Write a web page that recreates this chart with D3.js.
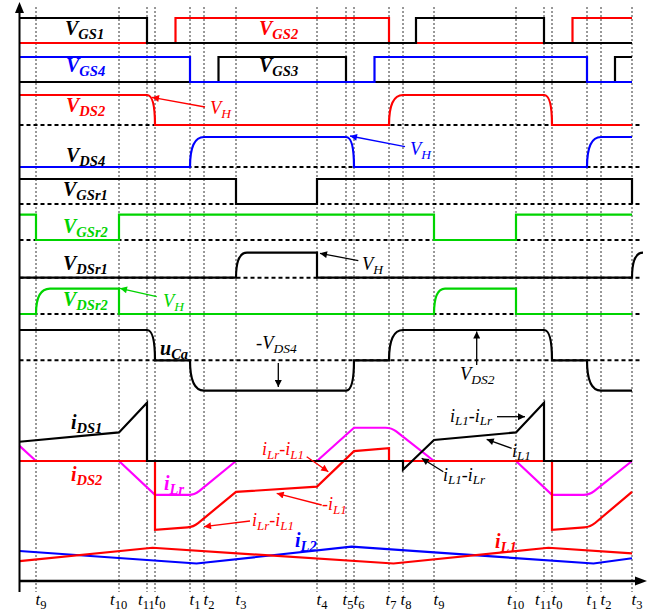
<!DOCTYPE html>
<html><head><meta charset="utf-8">
<script src="https://cdn.jsdelivr.net/npm/d3@7"></script>
<style>body{margin:0;background:#fff}svg{display:block}</style>
</head><body>
<svg id="c" width="664" height="615"></svg>
<script>
// ---------------- data ----------------
const tickNames = ["9","10","11","0","1","2","3","4","5","6","7","8","9","10","11","0","1","2","3"];
const tickTimes = [16.5,99.5,127.5,135.5,170.5,184.5,216.5,297.5,326.5,334.5,369.5,383.5,414.5,496.5,524.5,532.5,567.5,581.5,612.5];

// gate / drain waveforms: [time, level, edgeShape]
const vgs1 = [[0,1],[127.5,1],[127.5,0],[396.5,0],[396.5,1],[524.5,1],[524.5,0],[612.5,0]];
const vgs2 = [[0,0],[156,0],[156,1],[369.5,1],[369.5,0],[553,0],[553,1],[612.5,1]];
const vgs4 = [[0,1],[170.5,1],[170.5,0],[355,0],[355,1],[567.5,1],[567.5,0],[612.5,0]];
const vgs3 = [[0,0],[199,0],[199,1],[326.5,1],[326.5,0],[595.5,0],[595.5,1],[612.5,1]];
const vds2 = [[0,1],[127.5,1],[135.5,0,"u"],[369.5,0],[383.5,1,"u"],[524.5,1],[532.5,0,"u"],[612.5,0]];
const vds4 = [[0,0],[170.5,0],[184.5,1,"u"],[326.5,1],[334.5,0,"u"],[567.5,0],[581.5,1,"u"],[612.5,1]];
const vgsr1 = [[0,1],[216.5,1],[216.5,0],[297.5,0],[297.5,1],[612.5,1],[612.5,0]];
const vgsr2 = [[0,1],[16.5,1],[16.5,0],[99.5,0],[99.5,1],[414.5,1],[414.5,0],[496.5,0],[496.5,1],[612.5,1]];
const vdsr1 = [[0,0],[216.5,0],[227.5,1,"u"],[297.5,1],[297.5,0],[612.5,0],[623.5,1,"u"]];
const vdsr2 = [[0,0],[16.5,0],[30.5,1,"u"],[99.5,1],[99.5,0],[414.5,0],[425.5,1,"u"],[496.5,1],[496.5,0],[612.5,0]];
const uCa = [[0,1],[127.5,1],[135.5,0,"u"],[170.5,0],[184.5,-1,"d"],[326.5,-1],[334.5,0,"d"],[369.5,0],[383.5,1,"u"],[524.5,1],[532.5,0,"u"],[567.5,0],[581.5,-1,"d"],[612.5,-1]];

// currents: [time, value, corner]
const iLr = [[0,2.6],[16.5,0],[99.5,0],[135.5,-5.8],[175,-5.8,"r"],[216.5,0],[297.5,0],[334.5,5.7],[372,5.7,"r"],[414.5,0],[496.5,0],[532.5,-5.8],[570,-5.8,"r"],[612.5,0]];
const iDS2 = [[0,0],[135.5,0],[135.5,-11.8],[174,-11.3,"r"],[216.5,-5.3],[297.5,-4.4],[334.5,1.7],[369.5,2.2],[369.5,0],[532.5,0],[532.5,-11.8],[571,-11.3,"r"],[612.5,-5.3]];
const iDS1 = [[0,3.3],[99.5,4.9],[127.5,10],[127.5,0],[383.5,0],[383.5,-1.5],[414.5,3.6],[496.5,4.9],[524.5,10],[524.5,0],[612.5,0]];
const iL1 = [[0,3.4],[133,5.7],[374,3.0],[529,5.7],[612.5,4.75]];
const iL2 = [[0,5.15],[177,3.0],[332,5.9],[574,3.0],[612.5,3.9]];

// ---------------- drawing ----------------
const RED="#ff0000", BLUE="#0000ff", GREEN="#00d400", MAG="#ff00ff", BLK="#000";
const FONT='"Liberation Serif","Times New Roman",serif';
const svg = d3.select("#c");
const x = d3.scaleLinear().domain([0,612.5]).range([19.5,632]);
const rowY = (lo,hi)=>d3.scaleLinear().domain([0,1]).range([lo,hi]);
const r1=rowY(43,18), r2=rowY(82,57), r3=rowY(125,95), r4=rowY(167,137),
      r5=rowY(204,179), r6=rowY(240,214.7), r7=rowY(277.7,252.7), r8=rowY(314,288.7);
const rU = d3.scaleLinear().domain([-1,1]).range([390.7,330]);
const yI = d3.scaleLinear().domain([0,10]).range([461,402.7]);
const yL = d3.scaleLinear().domain([0,10]).range([581,522.7]);

// markers
const defs = svg.append("defs");
[["k",BLK],["r",RED],["b",BLUE],["g",GREEN]].forEach(([id,c])=>{
  defs.append("marker").attr("id","ar"+id).attr("viewBox","0 0 10 10").attr("refX",10).attr("refY",5)
    .attr("markerWidth",10).attr("markerHeight",7).attr("markerUnits","userSpaceOnUse").attr("orient","auto")
    .append("path").attr("d","M0,0L10,5L0,10z").attr("fill",c);
});

// grid verticals
svg.append("g").selectAll("line").data(tickTimes).join("line")
  .attr("x1",d=>x(d)).attr("x2",d=>x(d)).attr("y1",7).attr("y2",592)
  .attr("stroke","#333").attr("stroke-width",1).attr("stroke-dasharray","2,2");

// dashed baselines
[r3,r4,r5,r6,r7,r8].map(s=>s(0)).concat([rU(0)]).forEach(y=>{
  svg.append("line").attr("x1",19.5).attr("x2",642).attr("y1",y).attr("y2",y)
    .attr("stroke",BLK).attr("stroke-width",2).attr("stroke-dasharray","4,3");
});

function wavePath(pts, ys){
  const p=d3.path(); let prev=null;
  pts.forEach((d,i)=>{
    const X=x(d[0]), Y=ys(d[1]);
    if(i===0) p.moveTo(X,Y);
    else if(d[2]==="u"||d[2]==="d"){
      const hiPrev = prev[1] < Y;
      let cx,cy;
      if(d[2]==="u"){ cx = hiPrev? X: prev[0]; cy = hiPrev? prev[1]: Y; }
      else { cx = hiPrev? prev[0]: X; cy = hiPrev? Y: prev[1]; }
      p.quadraticCurveTo(cx,cy,X,Y);
    } else p.lineTo(X,Y);
    prev=[X,Y];
  });
  return p.toString();
}
function roundPath(pts, ys, r=6){
  const P=pts.map(d=>[x(d[0]),ys(d[1]),d[2]]);
  const p=d3.path(); p.moveTo(P[0][0],P[0][1]);
  for(let i=1;i<P.length;i++){
    const c=P[i];
    if(c[2]==="r" && i<P.length-1){
      const a=P[i-1], b=P[i+1];
      const d1=Math.hypot(c[0]-a[0],c[1]-a[1]), d2=Math.hypot(b[0]-c[0],b[1]-c[1]);
      const q1=Math.min(r,d1/2), q2=Math.min(r,d2/2);
      p.lineTo(c[0]-(c[0]-a[0])/d1*q1, c[1]-(c[1]-a[1])/d1*q1);
      p.quadraticCurveTo(c[0],c[1], c[0]+(b[0]-c[0])/d2*q2, c[1]+(b[1]-c[1])/d2*q2);
    } else p.lineTo(c[0],c[1]);
  }
  return p.toString();
}
function draw(d, color, w=2.2){
  svg.append("path").attr("d",d).attr("fill","none").attr("stroke",color).attr("stroke-width",w).attr("stroke-linejoin","miter");
}

draw(wavePath(vgs2,r1),RED);
draw(wavePath(vgs1,r1),BLK);
draw(wavePath(vgs3,r2),BLK);
draw(wavePath(vgs4,r2),BLUE);
draw(wavePath(vds2,r3),RED);
draw(wavePath(vds4,r4),BLUE);
draw(wavePath(vgsr1,r5),BLK);
draw(wavePath(vgsr2,r6),GREEN);
draw(wavePath(vdsr1,r7),BLK);
draw(wavePath(vdsr2,r8),GREEN);
draw(wavePath(uCa,rU),BLK);

draw(roundPath(iLr,yI),MAG);
draw(roundPath(iDS2,yI),RED);
draw(roundPath(iDS1,yI),BLK);
draw(roundPath(iL2,yL),BLUE);
draw(roundPath(iL1,yL),RED);

// axes
svg.append("line").attr("x1",19.5).attr("x2",19.5).attr("y1",592).attr("y2",10).attr("stroke",BLK).attr("stroke-width",2);
svg.append("path").attr("d","M19.5,2L15,13L24,13z").attr("fill",BLK);
svg.append("line").attr("x1",19.5).attr("x2",638).attr("y1",581).attr("y2",581).attr("stroke",BLK).attr("stroke-width",2.5);
svg.append("path").attr("d","M647,581L635,576.5L635,585.5z").attr("fill",BLK);

const ax = svg.append("g").attr("transform","translate(0,581)")
  .call(d3.axisBottom(x).tickValues(tickTimes).tickSize(0).tickFormat(""));
ax.select(".domain").remove();
const shiftFor = (n,i)=> n.length>1 ? -9.5 : ({8:-4,10:-4,11:-3}[i] ?? -1);
ax.selectAll(".tick text").each(function(d,i){
  const t=d3.select(this).text(null).attr("y",24).attr("dy",0).attr("x",shiftFor(tickNames[i],i))
    .attr("text-anchor","start").attr("fill",BLK).style("font-family",FONT);
  t.append("tspan").text("t").style("font-style","italic").style("font-size","17px");
  t.append("tspan").text(tickNames[i]).attr("dy",4).style("font-size","12.5px");
});

function label(px,py,parts,color,size,sub,bold,off=4){
  const t=svg.append("text").attr("x",px).attr("y",py).attr("fill",color)
    .style("font-family",FONT).style("font-style","italic").style("font-weight",bold?"bold":"normal");
  let s=false;
  parts.forEach(([str,isSub])=>{
    const ts=t.append("tspan").text(str).style("font-size",(isSub?sub:size)+"px");
    if(isSub!==s) ts.attr("dy",isSub?off:-off);
    s=isSub;
  });
}
function arrow(x1,y1,x2,y2,id,color){
  svg.append("line").attr("x1",x1).attr("y1",y1).attr("x2",x2).attr("y2",y2)
    .attr("stroke",color).attr("stroke-width",1.3).attr("marker-end","url(#ar"+id+")");
}

// signal labels (bold)
const B=(px,py,a,b,c)=>label(px,py,[[a,false],[b,true]],c,20,14.5,true);
B(65,35,"V","GS1",BLK);
B(259,35,"V","GS2",RED);
B(66,72,"V","GS4",BLUE);
B(259,72,"V","GS3",BLK);
B(66,112,"V","DS2",RED);
B(66,162,"V","DS4",BLK);
B(63,196,"V","GSr1",BLK);
B(63,233,"V","GSr2",GREEN);
B(63,269.5,"V","DSr1",BLK);
B(63,306,"V","DSr2",GREEN);
B(160,355,"u","Ca",BLK);
B(71,429,"i","DS1",BLK);
B(71,480.5,"i","DS2",RED);
B(164,490,"i","Lr",MAG);
B(295,546.5,"i","L2",BLUE);
B(495,548,"i","L1",RED);

// annotations (regular)
const N=(px,py,parts,c)=>label(px,py,parts,c,18.5,13.5,false);
N(210,114,[["V",false],["H",true]],RED); arrow(205,107,152,97.3,"r",RED);
N(410,155,[["V",false],["H",true]],BLUE); arrow(405,146.7,350,136,"b",BLUE);
N(362,270,[["V",false],["H",true]],BLK); arrow(358.3,260.7,320,253.3,"k",BLK);
N(163,306.5,[["V",false],["H",true]],GREEN); arrow(156.7,296.7,120,288.3,"g",GREEN);
N(256,349,[["-V",false],["DS4",true]],BLK); arrow(278.3,363,278.3,387,"k",BLK);
N(460,380,[["V",false],["DS2",true]],BLK); arrow(476.7,365,476.7,331.5,"k",BLK);
const I=(px,py,parts,c)=>label(px,py,parts,c,18,13,false,3.5);
I(262,455,[["i",false],["Lr",true],["-i",false],["L1",true]],RED); arrow(306.7,456.7,328.3,471.7,"r",RED);
I(322,510,[["-i",false],["L1",true]],RED); arrow(321.7,505,276.7,493.3,"r",RED);
I(252,526,[["i",false],["Lr",true],["-i",false],["L1",true]],RED); arrow(250,521,204,526.7,"r",RED);
I(450,421.7,[["i",false],["L1",true],["-i",false],["Lr",true]],BLK); arrow(497,416.7,525,416.7,"k",BLK);
I(512,456.7,[["i",false],["L1",true]],BLK); arrow(511.7,448.3,486.7,439.3,"k",BLK);
I(443,480.7,[["i",false],["L1",true],["-i",false],["Lr",true]],BLK); arrow(443.3,471.7,421.7,458.3,"k",BLK);
</script>
</body></html>
